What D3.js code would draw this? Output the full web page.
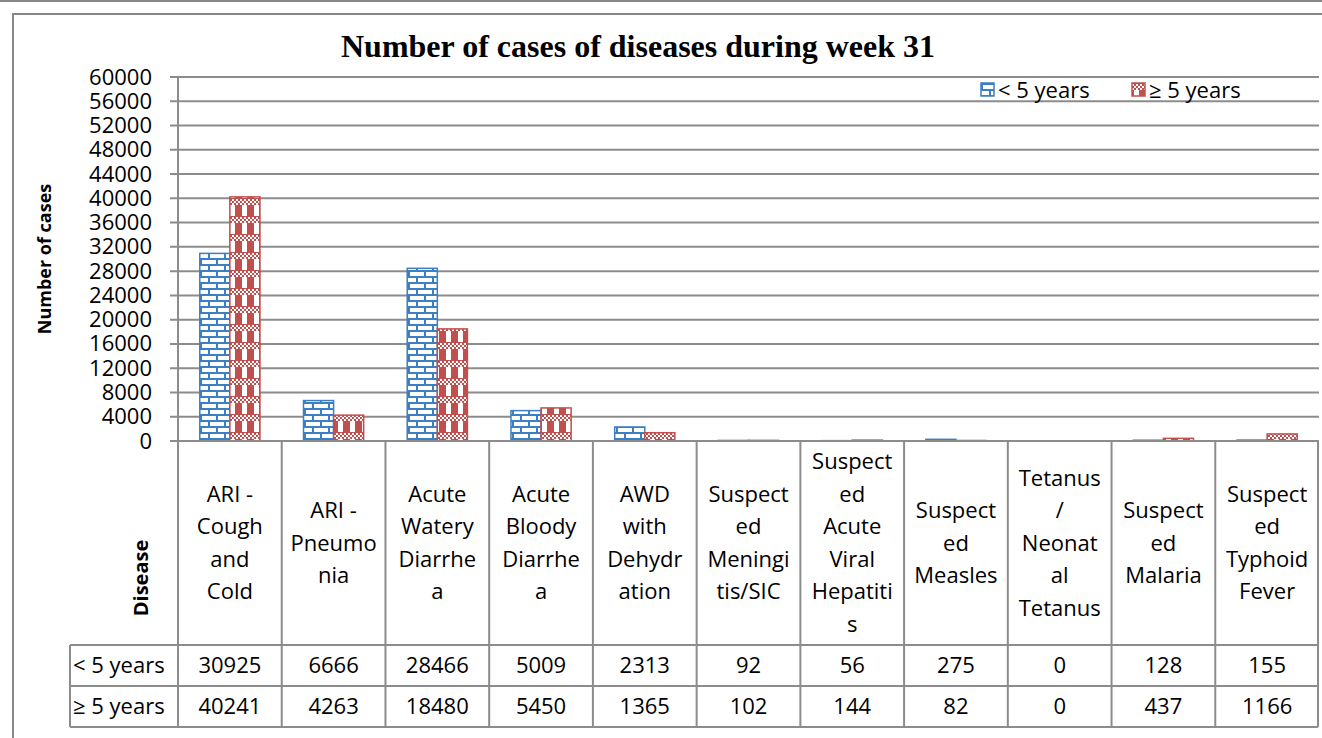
<!DOCTYPE html>
<html>
<head>
<meta charset="utf-8">
<script src="https://cdn.jsdelivr.net/npm/d3@7"></script>
<style>
  body { margin: 0; background: #fff; }
  text { font-family: "Open Sans", "Noto Sans", sans-serif; fill: #000; }
</style>
</head>
<body>
<script>
const width = 1322;
const height = 738;

// chart data
const categories = ["ARI - Cough and Cold", "ARI - Pneumonia", "Acute Watery Diarrhea",
  "Acute Bloody Diarrhea", "AWD with Dehydration", "Suspected Meningitis/SIC",
  "Suspected Acute Viral Hepatitis", "Suspected Measles", "Tetanus / Neonatal Tetanus",
  "Suspected Malaria", "Suspected Typhoid Fever"];
// wrapped as in the source table
const categoryLines = [
  ["ARI -", "Cough", "and", "Cold"],
  ["ARI -", "Pneumo", "nia"],
  ["Acute", "Watery", "Diarrhe", "a"],
  ["Acute", "Bloody", "Diarrhe", "a"],
  ["AWD", "with", "Dehydr", "ation"],
  ["Suspect", "ed", "Meningi", "tis/SIC"],
  ["Suspect", "ed", "Acute", "Viral", "Hepatiti", "s"],
  ["Suspect", "ed", "Measles"],
  ["Tetanus", "/", "Neonat", "al", "Tetanus"],
  ["Suspect", "ed", "Malaria"],
  ["Suspect", "ed", "Typhoid", "Fever"]
];
const seriesNames = ["< 5 years", "≥ 5 years"];
const under5 = [30925, 6666, 28466, 5009, 2313, 92, 56, 275, 0, 128, 155];
const over5 = [40241, 4263, 18480, 5450, 1365, 102, 144, 82, 0, 437, 1166];
const yTicks = d3.range(0, 60001, 4000);

const margin = { top: 77, left: 178, right: 3, plotBottom: 441 };
const headerBottom = 645, rowH = 41, labelLeft = 70;
const fontSize = '22px';

const svg = d3.select('body').append('svg')
  .attr('width', width)
  .attr('height', height);

// patterns
const defs = svg.append('defs');
const blue = '#3d7fc4', red = '#c0504d';
const brick = defs.append('pattern').attr('id', 'brick')
  .attr('patternUnits', 'userSpaceOnUse').attr('width', 16).attr('height', 12);
brick.append('rect').attr('width', 16).attr('height', 12).attr('fill', '#fff');
brick.append('path')
  .attr('d', 'M0,1H16M0,7H16M1,1V7M9,7V13')
  .attr('stroke', blue).attr('stroke-width', 2).attr('fill', 'none');

const check = defs.append('pattern').attr('id', 'check')
  .attr('patternUnits', 'userSpaceOnUse').attr('width', 12).attr('height', 18);
check.append('rect').attr('width', 12).attr('height', 18).attr('fill', red);
check.append('rect').attr('x', 2).attr('y', 7).attr('width', 5).attr('height', 11).attr('fill', '#fff');
for (let i = 0; i < 6; i++) {
  for (let j = 0; j < 3; j++) {
    if ((i + j) % 2 === 0) {
      check.append('rect').attr('x', i * 2).attr('y', 1 + j * 2)
        .attr('width', 2).attr('height', 2).attr('fill', '#fff');
    }
  }
}

// frame
svg.append('line').attr('x1', 0).attr('x2', width).attr('y1', 1).attr('y2', 1)
  .attr('stroke', '#888').attr('stroke-width', 2);
svg.append('path').attr('d', `M13,${height}V14H${width}`)
  .attr('fill', 'none').attr('stroke', '#888').attr('stroke-width', 2);

const x0 = d3.scaleBand().domain(categories).range([margin.left, width - margin.right]);
const bw = x0.bandwidth();
const x1 = d3.scaleBand().domain(seriesNames).range([bw * 0.21, bw * 0.79]);
const y = d3.scaleLinear().domain([0, 60000]).range([margin.plotBottom, margin.top]);

// grid
svg.append('g').selectAll('line').data(yTicks).join('line')
  .attr('x1', margin.left - 8).attr('x2', width - margin.right)
  .attr('y1', d => y(d)).attr('y2', d => y(d))
  .attr('stroke', '#8c8c8c').attr('stroke-width', 2);

// y axis labels
const yAxis = d3.axisLeft(y).tickValues(yTicks).tickFormat(d3.format('d')).tickSize(0).tickPadding(26);
const yg = svg.append('g').attr('transform', `translate(${margin.left},0)`).call(yAxis);
yg.select('.domain').remove();
yg.selectAll('text').style('font-size', fontSize).style('font-family', '"Open Sans", sans-serif');
svg.append('line').attr('x1', margin.left).attr('x2', margin.left)
  .attr('y1', margin.top).attr('y2', margin.plotBottom)
  .attr('stroke', '#8c8c8c').attr('stroke-width', 2);

// bars
const seriesData = [under5, over5];
const fills = ['url(#brick)', 'url(#check)'];
const strokes = [blue, red];
seriesNames.forEach((s, si) => {
  svg.append('g').selectAll('rect').data(categories).join('rect')
    .attr('x', d => x0(d) + x1(s))
    .attr('y', (d, i) => y(seriesData[si][i]))
    .attr('width', x1.bandwidth())
    .attr('height', (d, i) => y(0) - y(seriesData[si][i]))
    .attr('fill', fills[si])
    .attr('stroke', strokes[si]).attr('stroke-width', 1.5);
});

// title
svg.append('text').attr('x', 638).attr('y', 57).attr('text-anchor', 'middle')
  .style('font-family', '"Liberation Serif", serif').style('font-weight', 'bold')
  .style('font-size', '32px').text('Number of cases of diseases during week 31');

// y title
svg.append('text').attr('transform', `translate(51,259) rotate(-90)`)
  .attr('text-anchor', 'middle').style('font-weight', 'bold').style('font-size', '18px')
  .text('Number of cases');

// legend
const legendX = [981, 1132];
seriesNames.forEach((s, si) => {
  const lg = svg.append('g').attr('transform', `translate(${legendX[si]},83)`);
  lg.append('rect').attr('x', 0).attr('y', 0).attr('width', 13).attr('height', 13)
    .attr('fill', fills[si]).attr('stroke', strokes[si]).attr('stroke-width', 1.5);
  lg.append('text').attr('x', 17).attr('y', 7).attr('dy', '0.35em').style('font-size', fontSize).text(s);
});

// data table
const tableRight = width - margin.right - 1;
const rowTops = [headerBottom, headerBottom + rowH];
const tableBottom = headerBottom + 2 * rowH;
const tg = svg.append('g').attr('stroke', '#8c8c8c').attr('stroke-width', 2);
tg.append('line').attr('x1', margin.left - 8).attr('x2', tableRight).attr('y1', margin.plotBottom).attr('y2', margin.plotBottom);
[headerBottom, headerBottom + rowH, tableBottom].forEach(yy => {
  tg.append('line').attr('x1', labelLeft).attr('x2', tableRight).attr('y1', yy).attr('y2', yy);
});
tg.append('line').attr('x1', labelLeft).attr('x2', labelLeft).attr('y1', headerBottom).attr('y2', tableBottom);
categories.forEach(c => {
  tg.append('line').attr('x1', x0(c)).attr('x2', x0(c)).attr('y1', margin.plotBottom).attr('y2', tableBottom);
});
tg.append('line').attr('x1', tableRight).attr('x2', tableRight).attr('y1', margin.plotBottom).attr('y2', tableBottom);

// header text
const lineH = 32.5;
categories.forEach((c, i) => {
  const lines = categoryLines[i];
  const cy = (margin.plotBottom + headerBottom) / 2;
  const start = cy - (lines.length - 1) * lineH / 2;
  const t = svg.append('text').attr('text-anchor', 'middle').style('font-size', fontSize);
  lines.forEach((l, li) => {
    t.append('tspan').attr('x', x0(c) + bw / 2).attr('y', start + li * lineH)
      .attr('dy', '0.35em').text(l);
  });
});
svg.append('text').attr('transform', `translate(148,578) rotate(-90)`)
  .attr('text-anchor', 'middle').style('font-weight', 'bold').style('font-size', '20px')
  .text('Disease');

// row labels and values
seriesNames.forEach((s, si) => {
  const cy = rowTops[si] + rowH / 2;
  svg.append('text').attr('x', labelLeft + 3).attr('y', cy).attr('dy', '0.35em')
    .style('font-size', fontSize).text(s);
  svg.append('g').selectAll('text').data(categories).join('text')
    .attr('x', d => x0(d) + bw / 2).attr('y', cy).attr('dy', '0.35em')
    .attr('text-anchor', 'middle').style('font-size', fontSize)
    .text((d, i) => seriesData[si][i]);
});
</script>
</body>
</html>
